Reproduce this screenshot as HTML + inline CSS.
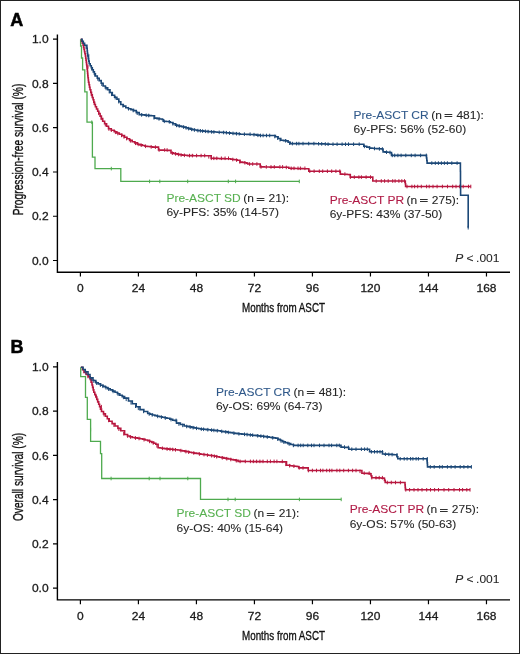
<!DOCTYPE html>
<html><head><meta charset="utf-8"><style>
html,body{margin:0;padding:0;background:#fff;}
body{width:520px;height:654px;overflow:hidden;}
svg{display:block;will-change:transform;}
.t{font-family:"Liberation Sans",sans-serif;font-size:12px;fill:#1a1a1a;stroke:#1a1a1a;stroke-width:0.3px;}
.lb{font-family:"Liberation Sans",sans-serif;font-size:12px;fill:#262626;stroke:#262626;stroke-width:0.1px;}
.ti{font-family:"Liberation Sans",sans-serif;font-size:13.3px;fill:#111;stroke:#111;stroke-width:0.35px;}
.pl{font-family:"Liberation Sans",sans-serif;font-size:18px;font-weight:bold;fill:#000;stroke:#000;stroke-width:0.5px;}
</style></head><body>
<svg width="520" height="654" viewBox="0 0 520 654">
<rect x="0.5" y="0.5" width="519" height="653" fill="#fff" stroke="#222" stroke-width="1"/>
<path d="M57.4,34.4V272.2H510" fill="none" stroke="#000" stroke-width="1.4"/>
<path d="M53,39.20H57.4M53,83.46H57.4M53,127.72H57.4M53,171.98H57.4M53,216.24H57.4M53,260.50H57.4M80.40,272.2V276.6M138.41,272.2V276.6M196.42,272.2V276.6M254.43,272.2V276.6M312.44,272.2V276.6M370.45,272.2V276.6M428.46,272.2V276.6M486.47,272.2V276.6" stroke="#000" stroke-width="1.2" fill="none"/>
<text class="t" transform="translate(48.60,43.30) scale(1,0.92)" text-anchor="end">1.0</text>
<text class="t" transform="translate(48.60,87.56) scale(1,0.92)" text-anchor="end">0.8</text>
<text class="t" transform="translate(48.60,131.82) scale(1,0.92)" text-anchor="end">0.6</text>
<text class="t" transform="translate(48.60,176.08) scale(1,0.92)" text-anchor="end">0.4</text>
<text class="t" transform="translate(48.60,220.34) scale(1,0.92)" text-anchor="end">0.2</text>
<text class="t" transform="translate(48.60,264.60) scale(1,0.92)" text-anchor="end">0.0</text>
<text class="t" transform="translate(80.40,291.80) scale(1,0.92)" text-anchor="middle">0</text>
<text class="t" transform="translate(138.41,291.80) scale(1,0.92)" text-anchor="middle">24</text>
<text class="t" transform="translate(196.42,291.80) scale(1,0.92)" text-anchor="middle">48</text>
<text class="t" transform="translate(254.43,291.80) scale(1,0.92)" text-anchor="middle">72</text>
<text class="t" transform="translate(312.44,291.80) scale(1,0.92)" text-anchor="middle">96</text>
<text class="t" transform="translate(370.45,291.80) scale(1,0.92)" text-anchor="middle">120</text>
<text class="t" transform="translate(428.46,291.80) scale(1,0.92)" text-anchor="middle">144</text>
<text class="t" transform="translate(486.47,291.80) scale(1,0.92)" text-anchor="middle">168</text>
<text class="ti" transform="translate(283.5,312.2) scale(0.74,1)" text-anchor="middle">Months from ASCT</text>
<text class="ti" style="font-size:14.6px" transform="translate(22.9,149.5) rotate(-90) scale(0.7,1)" text-anchor="middle">Progression-free survival (%)</text>
<path d="M57.4,362.1V599.9H510" fill="none" stroke="#000" stroke-width="1.4"/>
<path d="M53,366.90H57.4M53,411.16H57.4M53,455.42H57.4M53,499.68H57.4M53,543.94H57.4M53,588.20H57.4M80.40,599.9V604.3M138.41,599.9V604.3M196.42,599.9V604.3M254.43,599.9V604.3M312.44,599.9V604.3M370.45,599.9V604.3M428.46,599.9V604.3M486.47,599.9V604.3" stroke="#000" stroke-width="1.2" fill="none"/>
<text class="t" transform="translate(48.60,371.00) scale(1,0.92)" text-anchor="end">1.0</text>
<text class="t" transform="translate(48.60,415.26) scale(1,0.92)" text-anchor="end">0.8</text>
<text class="t" transform="translate(48.60,459.52) scale(1,0.92)" text-anchor="end">0.6</text>
<text class="t" transform="translate(48.60,503.78) scale(1,0.92)" text-anchor="end">0.4</text>
<text class="t" transform="translate(48.60,548.04) scale(1,0.92)" text-anchor="end">0.2</text>
<text class="t" transform="translate(48.60,592.30) scale(1,0.92)" text-anchor="end">0.0</text>
<text class="t" transform="translate(80.40,619.50) scale(1,0.92)" text-anchor="middle">0</text>
<text class="t" transform="translate(138.41,619.50) scale(1,0.92)" text-anchor="middle">24</text>
<text class="t" transform="translate(196.42,619.50) scale(1,0.92)" text-anchor="middle">48</text>
<text class="t" transform="translate(254.43,619.50) scale(1,0.92)" text-anchor="middle">72</text>
<text class="t" transform="translate(312.44,619.50) scale(1,0.92)" text-anchor="middle">96</text>
<text class="t" transform="translate(370.45,619.50) scale(1,0.92)" text-anchor="middle">120</text>
<text class="t" transform="translate(428.46,619.50) scale(1,0.92)" text-anchor="middle">144</text>
<text class="t" transform="translate(486.47,619.50) scale(1,0.92)" text-anchor="middle">168</text>
<text class="ti" transform="translate(283.5,639.9) scale(0.74,1)" text-anchor="middle">Months from ASCT</text>
<text class="ti" style="font-size:14.6px" transform="translate(22.9,477.0) rotate(-90) scale(0.697,1)" text-anchor="middle">Overall survival (%)</text>
<text x="10.3" y="25.5" class="pl">A</text>
<text x="10.6" y="353.1" class="pl">B</text>
<path d="M80.6,39.2V46H81.5V58H82.6V69.8H84.8V91.9H87V122.2H92.4V157.2H95V168.6H120.8V181.4H299.3" stroke="#4eaa4e" stroke-width="1.3" fill="none"/>
<path d="M91.8,120.4v3.6M111.3,166.8v3.6M149.6,179.6v3.6M159.8,179.6v3.6M187.7,179.6v3.6M228.3,179.6v3.6M235.6,179.6v3.6M299.3,179.6v3.6" stroke="#4eaa4e" stroke-width="1" fill="none"/>
<path d="M80.8,39.2H81.6V41.2H82.3V43.2H83.1V45.2H83.6V47.4H84.0V49.5H84.5V51.7H84.9V53.8H85.4V56.0H85.7V58.2H86.0V60.3H86.3V62.5H86.6V64.6H86.9V66.8H87.1V69.0H87.4V71.2H87.6V73.4H87.8V75.6H88.0V77.8H88.3V80.0H88.5V82.2H89.0V84.7H89.5V87.3H90.0V89.8H90.8V92.4H91.5V94.9H92.3V97.5H93.1V99.8H93.8V102.2H94.6V104.5H95.4V106.8H96.5V109.0H97.7V111.3H98.8V113.5H100.1V116.1H101.4V118.6H102.7V121.2H104.6V123.7H106.6V126.3H108.5V128.8H111.3V130.2H114.2V131.7H116.8V133.0H119.3V134.3H121.9V135.6H124.5V137.2H127.0V138.8H129.6V140.4H132.2V141.7H134.7V142.9H137.3V144.2H139.9V144.9H142.4V145.5H145.0V146.2H147.6V146.5H150.1V146.8H152.7V147.1L156.5,147.1H158.5V150.0H160.9V150.1H163.3V150.2H165.7V150.3H168.1V150.4H171.0V152.9H173.2V153.4H175.3V153.9H177.4V154.3H179.6V154.8H182.2V155.1H184.7V155.3H187.3V155.6H189.3V155.6H191.3V155.6H193.3V155.7H195.3V155.7H197.3V155.7H199.3V155.7H201.3V155.7H203.3V155.8H205.3V155.8H207.3V155.8H211.2V158.3H213.4V158.4H215.5V158.4H217.7V158.5H219.8V158.6H222.0V158.6H224.2V158.7H226.3V158.7H228.5V158.8H230.7V159.2H232.8V159.5H234.9V159.8H237.1V160.2H240.0V162.1H242.2V162.4H244.5V162.8H246.7V163.1H247.7V164.0L258.3,164.0H260.2V166.9H262.2V166.9H264.2V167.0H266.2V167.0H268.2V167.0H270.2V167.1H272.2V167.1H274.2V167.1H276.2V167.1H278.2V167.2H280.2V167.2H282.2V167.2H284.2V167.3H286.2V167.3H288.8V168.3H290.8V168.4H292.9V168.4H294.9V168.5H296.9V168.5H299.0V168.6H301.0V168.6H303.0V168.7H305.1V168.7H307.1V168.8H308.8V171.2L338.8,171.2H340.3V174.1H342.6V174.2H344.8V174.3H347.1V174.5H349.3V174.6H350.3V177.1L371.8,177.1H372.8V181.0L405.0,181.0H405.3V183.8H405.6V186.5L470.8,186.5" stroke="#b8173f" stroke-width="1.6" fill="none" stroke-linejoin="miter"/><path d="M88.0,65.0v3.6M91.4,92.6v3.6M94.2,101.4v3.6M98.7,111.5v3.6M101.2,116.5v3.6M105.3,122.8v3.6M108.9,127.2v3.6M111.3,128.4v3.6M115.4,130.5v3.6M117.8,131.7v3.6M121.5,133.6v3.6M124.0,135.1v3.6M126.6,136.8v3.6M130.4,139.0v3.6M135.5,141.5v3.6M138.2,142.6v3.6M141.2,143.4v3.6M145.6,144.5v3.6M151.2,145.1v3.6M155.4,145.3v3.6M159.1,148.2v3.6M164.7,148.2v3.6M167.1,148.2v3.6M172.3,151.4v3.6M175.6,152.1v3.6M178.4,152.7v3.6M181.1,153.2v3.6M184.4,153.5v3.6M189.5,153.8v3.6M192.4,153.8v3.6M196.6,153.8v3.6M201.1,153.8v3.6M204.7,153.8v3.6M208.8,155.0v3.6M211.3,156.5v3.6M213.8,156.5v3.6M216.8,156.5v3.6M221.4,156.5v3.6M225.1,156.5v3.6M228.5,156.5v3.6M232.8,157.7v3.6M236.6,158.3v3.6M239.9,160.2v3.6M244.9,161.0v3.6M249.6,162.2v3.6M252.7,162.2v3.6M256.9,162.2v3.6M261.0,165.1v3.6M266.3,165.1v3.6M271.0,165.1v3.6M274.3,165.1v3.6M279.9,165.1v3.6M282.6,165.1v3.6M286.3,165.6v3.6M291.2,166.5v3.6M294.0,166.5v3.6M298.0,166.5v3.6M300.4,166.5v3.6M304.9,166.5v3.6M309.8,169.4v3.6M314.1,169.4v3.6M319.3,169.4v3.6M322.7,169.4v3.6M327.4,169.4v3.6M331.7,169.4v3.6M335.9,169.4v3.6M339.8,169.4v3.6M344.9,172.3v3.6M350.4,175.3v3.6M354.3,175.3v3.6M358.9,175.3v3.6M361.4,175.3v3.6M366.1,175.3v3.6M370.5,175.3v3.6M376.2,179.2v3.6M381.3,179.2v3.6M384.6,179.2v3.6M388.2,179.2v3.6M392.7,179.2v3.6M395.1,179.2v3.6M398.9,179.2v3.6M401.8,179.2v3.6M404.5,179.2v3.6M407.0,184.7v3.6M411.9,184.7v3.6M414.6,184.7v3.6M417.7,184.7v3.6M421.3,184.7v3.6M426.6,184.7v3.6M429.2,184.7v3.6M433.0,184.7v3.6M437.1,184.7v3.6M442.4,184.7v3.6M447.5,184.7v3.6M452.7,184.7v3.6M456.0,184.7v3.6M459.7,184.7v3.6M463.2,184.7v3.6M468.5,184.7v3.6M470.8,184.7v3.6" stroke="#b8173f" stroke-width="1" fill="none"/>
<path d="M80.8,39.2H82.1V41.2H83.3V43.2H84.6V45.2H86.9V48.3H87.2V50.9H87.4V53.4H87.7V56.0H88.2V58.6H88.7V61.1H89.2V63.7H90.2V65.7H91.3V67.8H92.3V69.8H93.3V71.9H94.4V73.9H95.4V76.0H97.3V78.3H99.2V80.6H101.2V83.3H103.1V86.0H105.4V87.9H107.7V89.8H110.0V92.5H112.3V95.2H114.6V97.2H116.9V99.1H118.8V101.8H120.8V104.5H123.3V106.1H125.8V107.7H128.4V108.7H130.9V109.6H133.5V110.6H136.3V112.6H139.2V114.6H142.1V114.9H145.0V115.2H147.1V115.4H149.3V115.6H151.4V115.8H154.5V118.1H157.1V118.6H159.6V119.0H162.2V119.5H163.2V121.2H166.1V121.5H168.9V121.8H170.3V122.5H172.9V123.8H175.4V125.1H177.4V125.6H179.4V126.1H181.5V126.6H183.5V127.1H185.7V127.8H188.0V128.4H190.2V129.1H192.4V129.6H194.7V130.0H196.9V130.5H199.2V130.7H201.4V130.9H203.7V131.2H205.9V131.4H208.2V131.6H210.4V131.8H212.6V131.9H214.9V132.0H217.1V132.2H219.3V132.3H221.6V132.4H223.8V132.5H226.1V132.7H228.3V132.9H230.6V133.2H232.8V133.4H235.1V133.6H237.3V133.8H240.0V134.2H242.2V134.3H244.5V134.3H246.8V134.4H249.0V134.5H251.2V134.5H253.5V134.6H256.4V135.1H259.2V135.5L272.7,135.5H275.4V136.8H278.1V138.5H280.8V140.2H283.5V140.6H286.1V140.9H288.1V142.2H290.2V143.6L313.8,143.6H316.0V143.7H318.2V143.8H320.4V143.9H322.6V143.9H324.8V144.0H327.0V144.1H329.2V144.2L361.9,144.2H363.8V146.2H366.7V147.1H369.6V148.1H371.9V148.3H374.2V148.5H376.6V148.6H378.9V148.8H381.2V149.0H383.1V151.9H385.3V152.1H387.4V152.3H389.6V152.5H391.5V155.4L426.2,155.4H426.5V158.0H426.8V160.5H427.1V163.1L460.4,163.1H460.4V165.1H460.4V167.1H460.4V169.1H460.4V171.2H460.5V173.2H460.5V175.2H460.5V177.2H460.5V179.2H460.5V181.2H460.5V183.2H460.5V185.2H460.6V187.2H460.6V189.3H460.6V191.3H460.6V193.3H460.6V195.3L468.2,195.3L468.2,227.7" stroke="#1c4877" stroke-width="1.6" fill="none" stroke-linejoin="miter"/><path d="M86.0,45.3v3.6M88.8,54.2v3.6M91.7,66.8v3.6M94.8,72.9v3.6M97.8,77.1v3.6M101.8,82.4v3.6M106.1,86.6v3.6M109.2,89.8v3.6M111.5,92.5v3.6M115.2,95.9v3.6M118.8,99.9v3.6M123.0,104.1v3.6M128.5,106.9v3.6M133.2,108.7v3.6M137.2,111.4v3.6M141.6,113.1v3.6M146.2,113.5v3.6M148.7,113.7v3.6M154.0,116.0v3.6M159.0,117.1v3.6M164.3,119.5v3.6M169.3,120.0v3.6M172.9,122.0v3.6M176.5,123.6v3.6M179.2,124.2v3.6M183.6,125.3v3.6M186.1,126.1v3.6M188.6,126.8v3.6M191.6,127.6v3.6M194.4,128.2v3.6M197.9,128.8v3.6M200.4,129.0v3.6M202.6,129.3v3.6M205.4,129.5v3.6M208.1,129.8v3.6M211.6,130.1v3.6M213.9,130.2v3.6M219.2,130.5v3.6M223.6,130.7v3.6M226.4,130.9v3.6M229.5,131.3v3.6M233.0,131.6v3.6M236.5,131.9v3.6M239.2,132.0v3.6M244.4,132.4v3.6M250.1,132.4v3.6M254.0,132.9v3.6M257.9,133.5v3.6M260.5,133.7v3.6M263.1,133.7v3.6M266.5,133.7v3.6M269.7,133.7v3.6M274.8,134.7v3.6M277.7,136.4v3.6M280.0,137.9v3.6M285.6,139.0v3.6M289.7,141.4v3.6M292.4,141.8v3.6M296.6,141.8v3.6M298.9,141.8v3.6M303.0,141.8v3.6M308.7,141.8v3.6M313.9,141.8v3.6M318.6,142.0v3.6M321.7,142.1v3.6M325.3,142.2v3.6M328.1,142.4v3.6M333.0,142.4v3.6M337.1,142.4v3.6M342.1,142.4v3.6M345.5,142.4v3.6M348.5,142.4v3.6M353.6,142.4v3.6M359.2,142.4v3.6M364.4,144.6v3.6M369.5,146.3v3.6M374.5,146.7v3.6M379.4,147.1v3.6M382.4,147.2v3.6M386.5,150.4v3.6M390.0,150.7v3.6M392.3,153.6v3.6M394.7,153.6v3.6M397.9,153.6v3.6M401.1,153.6v3.6M405.8,153.6v3.6M411.3,153.6v3.6M415.1,153.6v3.6M420.6,153.6v3.6M426.3,153.6v3.6M431.8,161.3v3.6M435.3,161.3v3.6M438.4,161.3v3.6M441.4,161.3v3.6M444.4,161.3v3.6M447.4,161.3v3.6M451.8,161.3v3.6M457.1,161.3v3.6M468.2,225.9v3.6" stroke="#1c4877" stroke-width="1" fill="none"/>
<path d="M80.7,367.2V376.7H85.5V397.4H87.3V419.3H90.6V441.3H100.5V453.6H101.7V478.5H200.5V499.4H341.2" stroke="#4eaa4e" stroke-width="1.3" fill="none"/>
<path d="M90.6,427.8v3.6M111.1,476.7v3.6M149.2,476.7v3.6M160.0,476.7v3.6M187.8,476.7v3.6M228.0,497.6v3.6M235.2,497.6v3.6M299.4,497.6v3.6M341.2,497.6v3.6" stroke="#4eaa4e" stroke-width="1" fill="none"/>
<path d="M80.9,367.2H82.5V369.8H84.0V372.4H86.1V374.5H88.2V376.7H90.2V379.5H91.1V382.2H92.0V385.0H92.6V387.4H93.2V389.9H93.8V392.3H94.8V394.6H95.8V397.0H96.8V399.4H97.7V401.9H98.7V404.3H99.6V406.7H100.5V409.1H101.5V411.5H103.5V413.9H105.4V416.3H107.3V418.8H109.2V421.2H112.1V423.6H115.0V426.0H117.9V428.4H120.8V430.8H124.6V434.5H127.5V436.0H129.9V436.8H132.3V437.5H134.9V437.9H137.4V438.3H140.0V438.7H142.6V439.3H145.1V440.0H147.7V440.6H149.7V441.5H151.8V442.4H153.8V443.3H155.8V444.2H158.1V447.7H160.1V448.0H162.1V448.3H164.2V448.6H166.2V448.9H168.5V449.1H170.8V449.3H173.1V449.6H175.4V449.8H177.7V450.0H180.0V450.5H182.3V450.9H184.7V451.4H187.0V451.8H189.3V452.3H191.6V452.7H193.9V453.1H196.2V453.4H198.5V453.8H200.8V454.2H203.1V454.5H205.4V454.8H207.8V455.2H210.1V455.5H212.4V455.8H214.7V456.3H217.0V456.7H219.3V457.2H221.6V457.6H223.9V458.1H226.2V458.6H228.5V459.0H230.9V459.5H233.2V459.9H235.5V460.4H238.1V461.4H240.2V461.4H242.3V461.4H244.3V461.5H246.4V461.5H248.5V461.5H250.6V461.5H252.6V461.6H254.7V461.6H256.8V461.6H258.9V461.6H260.9V461.6H263.0V461.7H265.1V461.7H267.2V461.7H269.3V461.7H271.3V461.8H273.4V461.8H275.5V461.8H277.6V461.8H279.6V461.9H281.7V461.9H283.8V461.9H286.5V465.2H290.0V465.8H292.3V466.0H294.6V466.3H296.9V466.5H298.7V467.9L307.3,467.9H308.2V470.5L359.2,470.5H361.9V473.2H364.0V473.3H366.1V473.4H368.3V473.6H370.4V473.7H371.0V475.7H371.7V477.7H373.7V477.8H375.7V477.9H377.8V477.9H379.8V478.0H381.8V478.1H383.8V478.2H384.5V480.4H385.2V482.5L404.8,482.5H405.0V484.9H405.2V487.4H405.4V489.8L470.0,489.8" stroke="#b8173f" stroke-width="1.6" fill="none" stroke-linejoin="miter"/><path d="M88.0,374.7v3.6M91.9,377.7v3.6M96.4,395.2v3.6M101.4,404.9v3.6M104.0,412.8v3.6M108.6,418.6v3.6M113.9,423.3v3.6M118.9,427.4v3.6M123.7,431.9v3.6M127.7,434.3v3.6M130.6,435.2v3.6M135.5,436.2v3.6M139.0,436.7v3.6M144.0,437.9v3.6M149.6,439.6v3.6M153.2,441.2v3.6M156.9,444.0v3.6M162.4,446.5v3.6M167.1,447.2v3.6M170.0,447.5v3.6M172.7,447.7v3.6M175.5,448.0v3.6M180.9,448.8v3.6M185.9,449.8v3.6M188.7,450.4v3.6M193.8,451.2v3.6M199.4,452.2v3.6M204.0,452.8v3.6M207.4,453.3v3.6M211.6,453.9v3.6M214.3,454.4v3.6M216.7,454.9v3.6M222.3,456.0v3.6M226.8,456.9v3.6M230.8,457.7v3.6M236.3,458.9v3.6M240.1,459.6v3.6M245.3,459.6v3.6M250.4,459.6v3.6M253.4,459.6v3.6M256.6,459.6v3.6M259.9,459.6v3.6M263.0,459.6v3.6M267.3,459.6v3.6M270.4,459.6v3.6M274.1,459.6v3.6M276.9,459.6v3.6M282.3,459.6v3.6M285.8,462.5v3.6M289.6,463.9v3.6M293.9,464.4v3.6M299.2,466.1v3.6M303.0,466.1v3.6M308.4,468.7v3.6M312.4,468.7v3.6M316.5,468.7v3.6M320.5,468.7v3.6M322.9,468.7v3.6M326.7,468.7v3.6M329.6,468.7v3.6M331.9,468.7v3.6M336.9,468.7v3.6M339.8,468.7v3.6M343.7,468.7v3.6M348.4,468.7v3.6M352.6,468.7v3.6M356.0,468.7v3.6M360.0,469.5v3.6M364.2,471.4v3.6M369.2,471.4v3.6M371.8,475.9v3.6M376.0,475.9v3.6M379.2,475.9v3.6M382.4,475.9v3.6M387.3,480.7v3.6M391.3,480.7v3.6M395.5,480.7v3.6M400.4,480.7v3.6M405.8,488.0v3.6M409.6,488.0v3.6M414.0,488.0v3.6M418.0,488.0v3.6M422.0,488.0v3.6M426.7,488.0v3.6M430.5,488.0v3.6M434.6,488.0v3.6M438.5,488.0v3.6M444.0,488.0v3.6M448.7,488.0v3.6M454.0,488.0v3.6M459.5,488.0v3.6M462.6,488.0v3.6M466.8,488.0v3.6M470.0,488.0v3.6" stroke="#b8173f" stroke-width="1" fill="none"/>
<path d="M80.9,367.2H83.1V369.5H85.2V371.8H88.0V374.5H90.0V377.9H93.0V380.5H95.8V382.7H98.2V383.9H100.6V385.2H103.0V386.4H105.4V387.5H107.8V388.7H110.2V389.9H112.6V391.1H115.0V392.3H117.4V393.8H119.8V395.2H122.2V396.6H124.6V398.1H128.5V401.0H132.3V403.8H136.2V406.7H140.0V409.6H143.8V411.5H147.7V413.5H150.1V414.2H152.5V415.0H154.9V415.6H157.3V416.3H159.7V416.8H162.1V417.3H164.5V417.8H166.9V418.3H169.8V419.2H172.7V420.2H174.5V420.4H176.5V423.1H180.4V424.5H184.2V426.0H186.7V426.4H189.2V426.9H191.6V427.4H194.0V427.9H196.4V428.3H198.8V428.8H201.2V429.1H203.7V429.3H206.1V429.6H208.5V429.8H210.9V430.1H213.3V430.3H215.7V430.6H218.1V430.8H220.5V431.2H222.9V431.6H225.3V431.9H227.7V432.3H230.1V432.6H232.5V433.0H234.9V433.4H237.3V433.7H239.5V433.9H241.8V434.1H244.0V434.3H246.2V434.5H248.2V434.7H250.2V434.9H252.2V435.2H254.2V435.4H256.3V435.6H258.3V435.9H260.3V436.1H262.3V436.3H264.6V436.6H266.8V436.9H269.1V437.2H271.3V437.6H273.6V437.9H275.8V438.2H278.0V439.4H280.3V440.5H282.5V441.7H285.2V442.6H287.9V443.6H290.7V444.5H293.5V445.4L339.3,445.4H341.0V447.1H343.0V447.2H345.1V447.4H347.1V447.5H348.8V449.2L368.7,449.2H369.6V451.8L381.2,451.8H382.5V454.0H384.8V454.1H387.0V454.3H389.2V454.4H391.5V454.5H393.8V454.7H396.0V454.8H396.9V456.8H397.8V458.8L426.9,458.8H427.0V460.8H427.2V462.9H427.4V464.9H427.5V466.9L471.4,466.9" stroke="#1c4877" stroke-width="1.6" fill="none" stroke-linejoin="miter"/><path d="M86.0,370.8v3.6M91.2,377.1v3.6M93.9,379.4v3.6M96.6,381.3v3.6M100.4,383.3v3.6M102.9,384.5v3.6M106.0,386.0v3.6M108.6,387.3v3.6M113.1,389.6v3.6M118.1,392.4v3.6M123.4,395.6v3.6M126.2,397.5v3.6M131.0,401.0v3.6M135.5,404.4v3.6M138.3,406.5v3.6M143.6,409.6v3.6M149.2,412.2v3.6M152.2,413.1v3.6M157.7,414.6v3.6M161.4,415.3v3.6M165.3,416.2v3.6M171.0,417.8v3.6M176.1,418.6v3.6M178.9,422.2v3.6M182.7,423.6v3.6M186.7,424.7v3.6M190.2,425.3v3.6M193.1,425.9v3.6M196.5,426.5v3.6M201.3,427.3v3.6M203.6,427.5v3.6M207.8,427.9v3.6M211.6,428.3v3.6M213.9,428.6v3.6M217.3,428.9v3.6M221.7,429.6v3.6M225.8,430.2v3.6M228.3,430.6v3.6M233.9,431.4v3.6M238.9,432.0v3.6M244.5,432.5v3.6M247.1,432.8v3.6M250.3,433.2v3.6M252.7,433.4v3.6M257.7,434.0v3.6M260.9,434.3v3.6M263.6,434.7v3.6M267.3,435.2v3.6M272.7,436.0v3.6M277.8,437.4v3.6M281.0,439.1v3.6M283.8,440.3v3.6M289.2,442.2v3.6M293.4,443.6v3.6M298.1,443.6v3.6M300.7,443.6v3.6M303.2,443.6v3.6M307.8,443.6v3.6M311.5,443.6v3.6M314.0,443.6v3.6M319.5,443.6v3.6M324.0,443.6v3.6M329.0,443.6v3.6M331.6,443.6v3.6M336.8,443.6v3.6M339.3,443.6v3.6M344.5,445.3v3.6M348.4,445.7v3.6M351.8,447.4v3.6M356.0,447.4v3.6M361.4,447.4v3.6M364.6,447.4v3.6M367.3,447.4v3.6M371.4,450.0v3.6M374.5,450.0v3.6M377.2,450.0v3.6M380.0,450.0v3.6M382.4,450.0v3.6M385.4,452.4v3.6M388.8,452.6v3.6M392.1,452.8v3.6M397.0,453.0v3.6M400.2,457.0v3.6M404.2,457.0v3.6M407.1,457.0v3.6M410.6,457.0v3.6M412.9,457.0v3.6M416.1,457.0v3.6M418.4,457.0v3.6M423.2,457.0v3.6M427.3,457.0v3.6M430.3,465.1v3.6M434.2,465.1v3.6M439.7,465.1v3.6M442.3,465.1v3.6M447.4,465.1v3.6M451.1,465.1v3.6M455.1,465.1v3.6M460.2,465.1v3.6M463.9,465.1v3.6M467.9,465.1v3.6M471.4,465.1v3.6" stroke="#1c4877" stroke-width="1" fill="none"/>
<text class="lb" transform="translate(353.60,118.90) scale(1,0.92)"><tspan fill="#30598a" stroke="#30598a">Pre-ASCT CR</tspan><tspan dx="-0.8"> (n</tspan></text><path d="M444.56,114.50h7.7M444.56,116.50h7.7" stroke="#303030" stroke-width="1" fill="none"/><text class="lb" transform="translate(456.40,118.90) scale(1,0.92)">481):</text><text class="lb" transform="translate(353.60,133.00) scale(1,0.92)">6y-PFS: 56% (52-60)</text>
<text class="lb" transform="translate(166.40,202.10) scale(1,0.92)"><tspan fill="#58b151" stroke="#58b151">Pre-ASCT SD</tspan><tspan dx="-0.8"> (n</tspan></text><path d="M256.70,198.50h7.7M256.70,200.50h7.7" stroke="#303030" stroke-width="1" fill="none"/><text class="lb" transform="translate(268.54,202.10) scale(1,0.92)">21):</text><text class="lb" transform="translate(166.40,216.20) scale(1,0.92)">6y-PFS: 35% (14-57)</text>
<text class="lb" transform="translate(329.70,203.60) scale(1,0.92)"><tspan fill="#b01a45" stroke="#b01a45">Pre-ASCT PR</tspan><tspan dx="-0.8"> (n</tspan></text><path d="M420.00,199.50h7.7M420.00,201.50h7.7" stroke="#303030" stroke-width="1" fill="none"/><text class="lb" transform="translate(431.84,203.60) scale(1,0.92)">275):</text><text class="lb" transform="translate(329.70,217.70) scale(1,0.92)">6y-PFS: 43% (37-50)</text>
<text class="lb" transform="translate(215.90,395.60) scale(1,0.92)"><tspan fill="#30598a" stroke="#30598a">Pre-ASCT CR</tspan><tspan dx="-0.8"> (n</tspan></text><path d="M306.86,391.50h7.7M306.86,393.50h7.7" stroke="#303030" stroke-width="1" fill="none"/><text class="lb" transform="translate(318.70,395.60) scale(1,0.92)">481):</text><text class="lb" transform="translate(215.90,409.70) scale(1,0.92)">6y-OS: 69% (64-73)</text>
<text class="lb" transform="translate(176.50,517.40) scale(1,0.92)"><tspan fill="#58b151" stroke="#58b151">Pre-ASCT SD</tspan><tspan dx="-0.8"> (n</tspan></text><path d="M266.80,513.50h7.7M266.80,515.50h7.7" stroke="#303030" stroke-width="1" fill="none"/><text class="lb" transform="translate(278.64,517.40) scale(1,0.92)">21):</text><text class="lb" transform="translate(176.50,531.50) scale(1,0.92)">6y-OS: 40% (15-64)</text>
<text class="lb" transform="translate(349.70,513.40) scale(1,0.92)"><tspan fill="#b01a45" stroke="#b01a45">Pre-ASCT PR</tspan><tspan dx="-0.8"> (n</tspan></text><path d="M440.00,509.50h7.7M440.00,511.50h7.7" stroke="#303030" stroke-width="1" fill="none"/><text class="lb" transform="translate(451.84,513.40) scale(1,0.92)">275):</text><text class="lb" transform="translate(349.70,527.50) scale(1,0.92)">6y-OS: 57% (50-63)</text>
<text class="lb" transform="translate(455.20,261.90) scale(1,0.92)"><tspan font-style="italic">P</tspan> &lt;<tspan dx="-0.8"> .001</tspan></text>
<text class="lb" transform="translate(455.20,582.90) scale(1,0.92)"><tspan font-style="italic">P</tspan> &lt;<tspan dx="-0.8"> .001</tspan></text>
</svg>
</body></html>
